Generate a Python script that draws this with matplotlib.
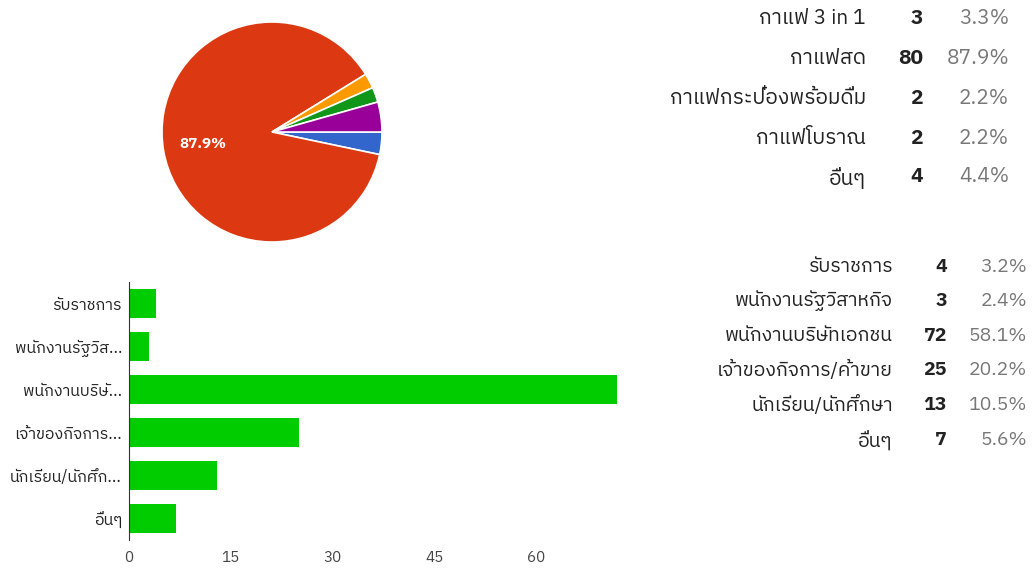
import matplotlib
matplotlib.use('Agg')
import matplotlib.pyplot as plt
from matplotlib import font_manager
from fontTools.ttLib import TTFont

# coffee type survey (pie + table)
coffee_labels = ['กาแฟ 3 in 1', 'กาแฟสด', 'กาแฟกระป๋องพร้อมดื่ม', 'กาแฟโบราณ', 'อื่นๆ']
coffee_counts = [3, 80, 2, 2, 4]
coffee_pcts = ['3.3%', '87.9%', '2.2%', '2.2%', '4.4%']
coffee_colors = ['#3366cc', '#dc3912', '#ff9900', '#109618', '#990099']

# occupation survey (bars + table)
job_labels = ['รับราชการ', 'พนักงานรัฐวิสาหกิจ', 'พนักงานบริษัทเอกชน',
              'เจ้าของกิจการ/ค้าขาย', 'นักเรียน/นักศึกษา', 'อื่นๆ']
job_short = ['รับราชการ', 'พนักงานรัฐวิส...', 'พนักงานบริษั...',
             'เจ้าของกิจการ...', 'นักเรียน/นักศึก...', 'อื่นๆ']
job_counts = [4, 3, 72, 25, 13, 7]
job_pcts = ['3.2%', '2.4%', '58.1%', '20.2%', '10.5%', '5.6%']
x_ticks = [0, 15, 30, 45, 60]


def find_thai_family():
    # look for any installed font that has Thai glyphs
    entries = sorted(font_manager.fontManager.ttflist,
                     key=lambda f: (0 if 'Thai' in f.name else 1, f.name))
    for fe in entries:
        try:
            font = TTFont(fe.fname, fontNumber=0, lazy=True)
            cmap = font.getBestCmap()
        except Exception:
            continue
        if cmap and 0x0E01 in cmap:
            return fe.name
    return None


thai = find_thai_family()
families = [thai, 'DejaVu Sans'] if thai else ['DejaVu Sans']
plt.rcParams['font.family'] = families

W, H = 1034, 568
fig = plt.figure(figsize=(W / 100, H / 100), dpi=100)


def px_axes(left, top, width, height):
    return fig.add_axes([left / W, 1 - (top + height) / H, width / W, height / H])


# pie
ax_pie = px_axes(162, 22, 220, 220)
wedges, _, autotexts = ax_pie.pie(
    coffee_counts, colors=coffee_colors, startangle=0, counterclock=False,
    wedgeprops=dict(edgecolor='white', linewidth=1.2),
    autopct=lambda p: '%.1f%%' % p if p > 50 else '', pctdistance=0.64,
    textprops=dict(color='white', fontsize=11, fontweight='bold'))
ax_pie.set_aspect('equal')
ax_pie.set_xlim(-1, 1)
ax_pie.set_ylim(-1, 1)


# tables drawn as text columns
def draw_table(labels, counts, pcts, ys, x_label, x_count, x_pct, size):
    for lab, c, p, y in zip(labels, counts, pcts, ys):
        fig.text(x_label / W, 1 - y / H, lab, ha='right', va='center',
                 fontsize=size, color='#222222')
        fig.text(x_count / W, 1 - y / H, str(c), ha='right', va='center',
                 fontsize=size, color='#222222', fontweight='bold')
        fig.text(x_pct / W, 1 - y / H, p, ha='right', va='center',
                 fontsize=size, color='#777777')


draw_table(coffee_labels, coffee_counts, coffee_pcts,
           [18, 59, 99, 138, 177], 866, 923, 1009, 15)
draw_table(job_labels, job_counts, job_pcts,
           [267, 301, 336, 370, 405, 440], 893, 947, 1027, 14)

# horizontal bars
ax_bar = px_axes(129, 282, 6.78 * 75, 258)
y = list(range(len(job_counts)))
ax_bar.barh(y, job_counts, height=0.67, color='#00cc00')
ax_bar.set_ylim(len(job_counts) - 0.5, -0.5)
ax_bar.set_xlim(0, 75)
ax_bar.set_yticks(y)
ax_bar.set_yticklabels(job_short, fontsize=11.5, color='#222222')
ax_bar.set_xticks(x_ticks)
ax_bar.set_xticklabels([str(t) for t in x_ticks], fontsize=11, color='#444444')
ax_bar.tick_params(length=0, pad=5)
ax_bar.tick_params(axis='x', pad=8)
for side in ['top', 'right', 'bottom']:
    ax_bar.spines[side].set_visible(False)
ax_bar.spines['left'].set_color('#333333')

fig.savefig('out.png', dpi=100, facecolor='white')
